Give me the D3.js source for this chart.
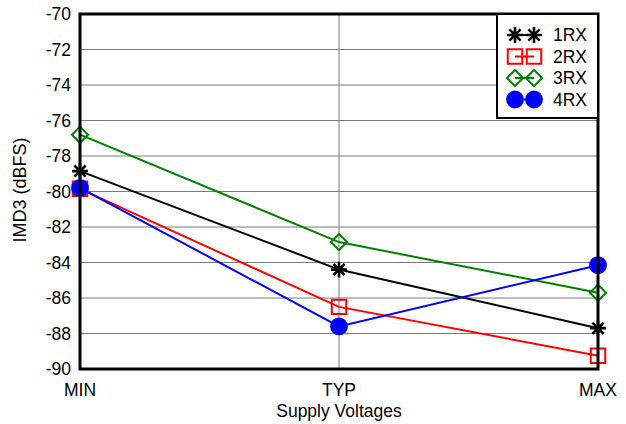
<!DOCTYPE html>
<html>
<head>
<meta charset="utf-8">
<script src="https://cdn.jsdelivr.net/npm/d3@7"></script>
<style>
  body { margin: 0; background: #fff; }
  text { font-family: "Liberation Sans", Arial, sans-serif; }
</style>
</head>
<body>
<script>
var width = 626,
    height = 424,
    margin = {top: 14, right: 28, bottom: 55, left: 80};

var categories = ["MIN", "TYP", "MAX"];
var yTicks = [-70, -72, -74, -76, -78, -80, -82, -84, -86, -88, -90];
var rx1 = [-78.85, -84.4, -87.7];
var rx2 = [-79.85, -86.5, -89.25];
var rx3 = [-76.8, -82.85, -85.7];
var rx4 = [-79.8, -87.6, -84.15];

var series = [
  {name: "1RX", values: rx1, color: "#000000", marker: "star"},
  {name: "2RX", values: rx2, color: "#ff0000", marker: "square"},
  {name: "3RX", values: rx3, color: "#008000", marker: "diamond"},
  {name: "4RX", values: rx4, color: "#0000ff", marker: "circle"}
];

var fs = 17.5;

var svg = d3.select("body").append("svg")
    .attr("width", width)
    .attr("height", height);

var x = d3.scalePoint()
    .domain(categories)
    .range([margin.left, width - margin.right]);

var y = d3.scaleLinear()
    .domain([-90, -70])
    .range([height - margin.bottom, margin.top]);

// grid
svg.append("g").selectAll("line")
    .data(yTicks)
    .enter().append("line")
    .attr("x1", margin.left).attr("x2", width - margin.right)
    .attr("y1", function(d) { return y(d); })
    .attr("y2", function(d) { return y(d); })
    .attr("stroke", "#7a7a7a")
    .attr("stroke-width", 1);

svg.append("line")
    .attr("x1", x("TYP")).attr("x2", x("TYP"))
    .attr("y1", margin.top).attr("y2", height - margin.bottom)
    .attr("stroke", "#7a7a7a")
    .attr("stroke-width", 1);

// tick labels
svg.append("g").selectAll("text")
    .data(yTicks)
    .enter().append("text")
    .attr("x", margin.left - 9)
    .attr("y", function(d) { return y(d); })
    .attr("dy", "0.35em")
    .attr("text-anchor", "end")
    .attr("font-size", fs)
    .text(function(d) { return d; });

svg.append("g").selectAll("text")
    .data(categories)
    .enter().append("text")
    .attr("x", function(d) { return x(d); })
    .attr("y", height - margin.bottom + 27)
    .attr("text-anchor", "middle")
    .attr("font-size", fs)
    .text(function(d) { return d; });

svg.append("text")
    .attr("x", (margin.left + width - margin.right) / 2)
    .attr("y", 417)
    .attr("text-anchor", "middle")
    .attr("font-size", fs)
    .text("Supply Voltages");

svg.append("text")
    .attr("transform", "translate(26,190) rotate(-90)")
    .attr("text-anchor", "middle")
    .attr("font-size", 18)
    .text("IMD3 (dBFS)");

// 8-armed star
var symbolStar8 = {
  draw: function(context, size) {
    var r = Math.sqrt(size) / 2;
    for (var k = 0; k < 4; k++) {
      var a = k * Math.PI / 4;
      context.moveTo(-r * Math.cos(a), -r * Math.sin(a));
      context.lineTo(r * Math.cos(a), r * Math.sin(a));
    }
  }
};

var symbols = {
  star: symbolStar8,
  square: d3.symbolSquare,
  diamond: d3.symbolSquare,
  circle: d3.symbolCircle
};
var sizes = {star: 250, square: 210, diamond: 130, circle: 250};

function drawMarker(g, s, cx, cy) {
  var p = g.append("path")
      .attr("transform", "translate(" + cx + "," + cy + ")" + (s.marker == "diamond" ? " rotate(45)" : ""))
      .attr("d", d3.symbol(symbols[s.marker], sizes[s.marker])());
  if (s.marker == "circle") {
    p.attr("fill", s.color);
  } else if (s.marker == "star") {
    p.attr("fill", "none").attr("stroke", s.color).attr("stroke-width", 2.6);
  } else {
    p.attr("fill", "none").attr("stroke", s.color).attr("stroke-width", 2);
  }
}

var line = d3.line()
    .x(function(d, i) { return x(categories[i]); })
    .y(function(d) { return y(d); });

series.forEach(function(s) {
  svg.append("path")
      .datum(s.values)
      .attr("d", line)
      .attr("fill", "none")
      .attr("stroke", s.color)
      .attr("stroke-width", 2);
});

series.forEach(function(s) {
  var g = svg.append("g");
  s.values.forEach(function(v, i) {
    drawMarker(g, s, x(categories[i]), y(v));
  });
});

// frame
svg.append("rect")
    .attr("x", margin.left).attr("y", margin.top)
    .attr("width", width - margin.right - margin.left)
    .attr("height", height - margin.bottom - margin.top)
    .attr("fill", "none")
    .attr("stroke", "#000")
    .attr("stroke-width", 3);

// legend
var lg = svg.append("g");
lg.append("rect")
    .attr("x", 497).attr("y", margin.top)
    .attr("width", width - margin.right - 497)
    .attr("height", 104)
    .attr("fill", "#fff")
    .attr("stroke", "#000")
    .attr("stroke-width", 2);

series.forEach(function(s, i) {
  var ly = 35 + i * 21.5;
  lg.append("line")
      .attr("x1", 515).attr("x2", 534)
      .attr("y1", ly).attr("y2", ly)
      .attr("stroke", s.color).attr("stroke-width", 2);
  drawMarker(lg, s, 515, ly);
  drawMarker(lg, s, 534, ly);
  lg.append("text")
      .attr("x", 553).attr("y", ly)
      .attr("dy", "0.35em")
      .attr("font-size", fs)
      .text(s.name);
});
</script>
</body>
</html>
